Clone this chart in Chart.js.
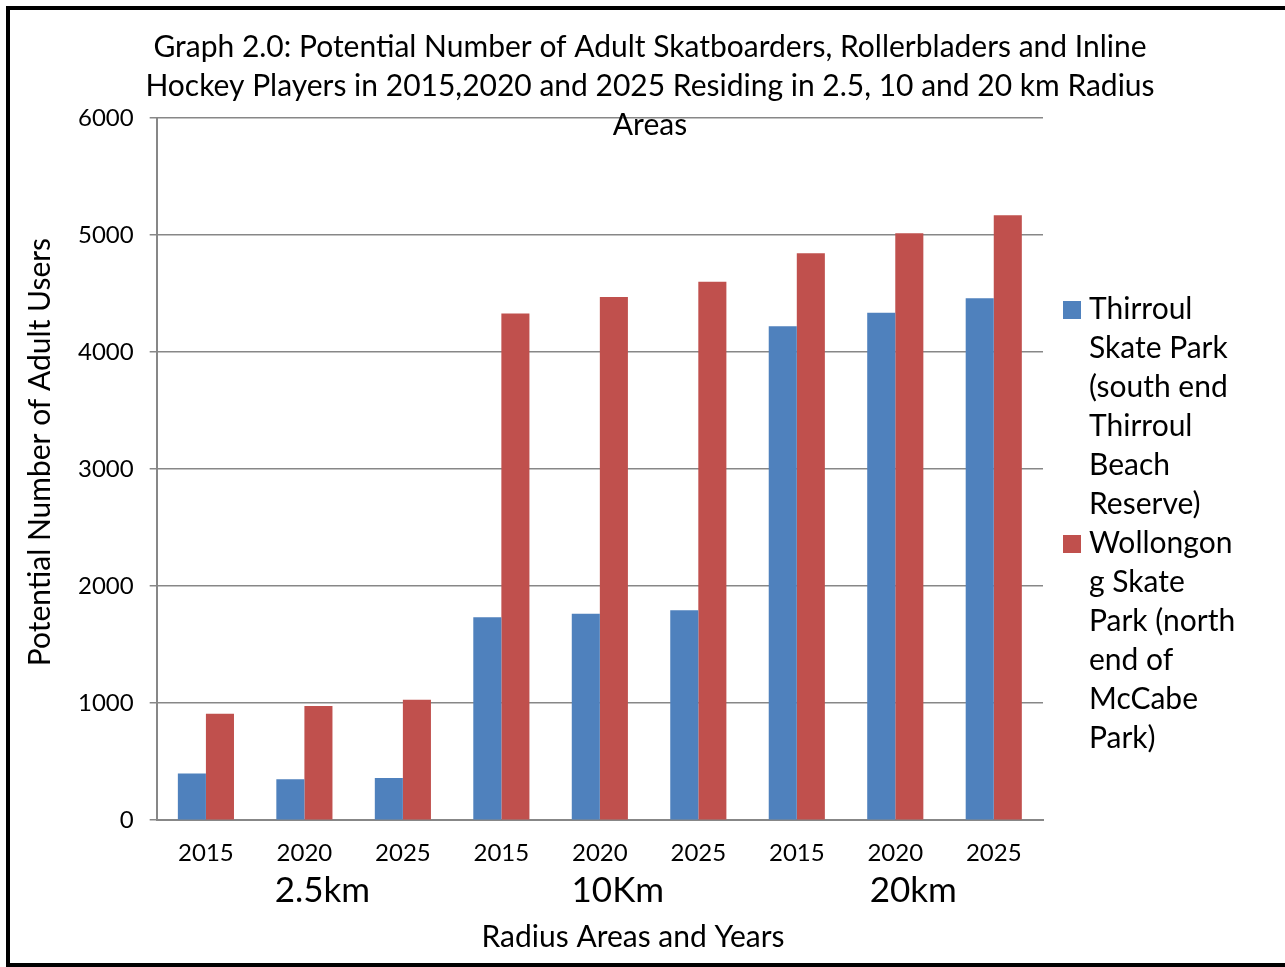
<!DOCTYPE html>
<html>
<head>
<meta charset="utf-8">
<script src="https://cdn.jsdelivr.net/npm/chart.js@4.4.1/dist/chart.umd.min.js"></script>
<style>
  html, body { margin: 0; padding: 0; background: #fff; overflow: hidden; }
  #wrap { position: relative; width: 1285px; height: 967px; }
  #frame { position: absolute; left: 6px; top: 6px; width: 1300px; height: 953px; border: 4px solid #000; pointer-events: none; }
  canvas { position: absolute; left: 0; top: 0; }
</style>
</head>
<body>
<div id="wrap">
  <canvas id="chart" width="1285" height="967"></canvas>
  <div id="frame"></div>
</div>
<script>
// --- data ---
const categoryYears = ['2015', '2020', '2025', '2015', '2020', '2025', '2015', '2020', '2025'];
const radiusGroups = ['2.5km', '10Km', '20km'];
const thirroulValues = [400, 350, 360, 1735, 1765, 1795, 4220, 4335, 4460];
const wollongongValues = [910, 975, 1030, 4330, 4470, 4600, 4845, 5015, 5170];
const yMax = 6000;
const yStep = 1000;

const seriesNames = [
    'Thirroul Skate Park (south end Thirroul Beach Reserve)',
    'Wollongong Skate Park (north end of McCabe Park)'
];
// legend text wrapped the way the original wraps it
const legendLines = [
    ['Thirroul', 'Skate Park', '(south end', 'Thirroul', 'Beach', 'Reserve)'],
    ['Wollongon', 'g Skate', 'Park (north', 'end of', 'McCabe', 'Park)']
];
const titleLines = [
    'Graph 2.0: Potential Number of Adult Skatboarders, Rollerbladers and Inline',
    'Hockey Players in 2015,2020 and 2025 Residing in 2.5, 10 and 20 km Radius',
    'Areas'
];
const xTitle = 'Radius Areas and Years';
const yTitle = 'Potential Number of Adult Users';

const FONT = 'Lato, "Open Sans", sans-serif';
const gridGray = '#878787';

const decorations = {
    id: 'decorations',
    afterDraw(chart) {
        const ctx = chart.ctx;
        const area = chart.chartArea;
        const xs = chart.scales.x;
        ctx.save();
        ctx.fillStyle = '#000';
        ctx.textBaseline = 'middle';

        // title
        ctx.font = '30px ' + FONT;
        ctx.textAlign = 'center';
        titleLines.forEach((t, i) => ctx.fillText(t, 650, 47 + i * 39));

        // group labels under the years
        ctx.font = '35px ' + FONT;
        radiusGroups.forEach((g, i) => {
            const x = xs.getPixelForValue(i * 3 + 1) + 18;
            ctx.fillText(g, x, 891);
        });

        // x axis title
        ctx.font = '30px ' + FONT;
        ctx.fillText(xTitle, 633, 937);

        // y axis title
        ctx.save();
        ctx.translate(40, (area.top + area.bottom) / 2 - 17);
        ctx.rotate(-Math.PI / 2);
        ctx.fillText(yTitle, 0, 0);
        ctx.restore();

        // legend
        ctx.textAlign = 'left';
        ctx.font = '30px ' + FONT;
        let y = 309;
        chart.data.datasets.forEach((ds, i) => {
            ctx.fillStyle = ds.backgroundColor;
            ctx.fillRect(1063, y - 8, 18, 18);
            ctx.fillStyle = '#000';
            legendLines[i].forEach((line, j) => {
                ctx.fillText(line, 1089, y + j * 39);
            });
            y += legendLines[i].length * 39;
        });
        ctx.restore();
    }
};

new Chart(document.getElementById('chart'), {
    type: 'bar',
    data: {
        labels: categoryYears,
        datasets: [
            { label: seriesNames[0], data: thirroulValues, backgroundColor: '#4F81BD' },
            { label: seriesNames[1], data: wollongongValues, backgroundColor: '#C0504D' }
        ]
    },
    options: {
        responsive: false,
        animation: false,
        layout: { padding: { left: 62, right: 242, top: 118, bottom: 80 } },
        categoryPercentage: 0.57,
        barPercentage: 1.0,
        plugins: {
            legend: { display: false },
            title: { display: false },
            tooltip: { enabled: false }
        },
        scales: {
            x: {
                grid: { display: false, drawTicks: false },
                border: { color: gridGray, width: 2 },
                ticks: { color: '#000', font: { family: FONT, size: 24 }, padding: 19, maxRotation: 0 }
            },
            y: {
                min: 0,
                max: yMax,
                grid: { color: gridGray, lineWidth: 1.5, tickLength: 7 },
                border: { color: gridGray, width: 2 },
                ticks: {
                    stepSize: yStep, color: '#000', font: { family: FONT, size: 24 }, padding: 16,
                    callback: v => String(v)
                }
            }
        }
    },
    plugins: [decorations]
});
</script>
</body>
</html>
